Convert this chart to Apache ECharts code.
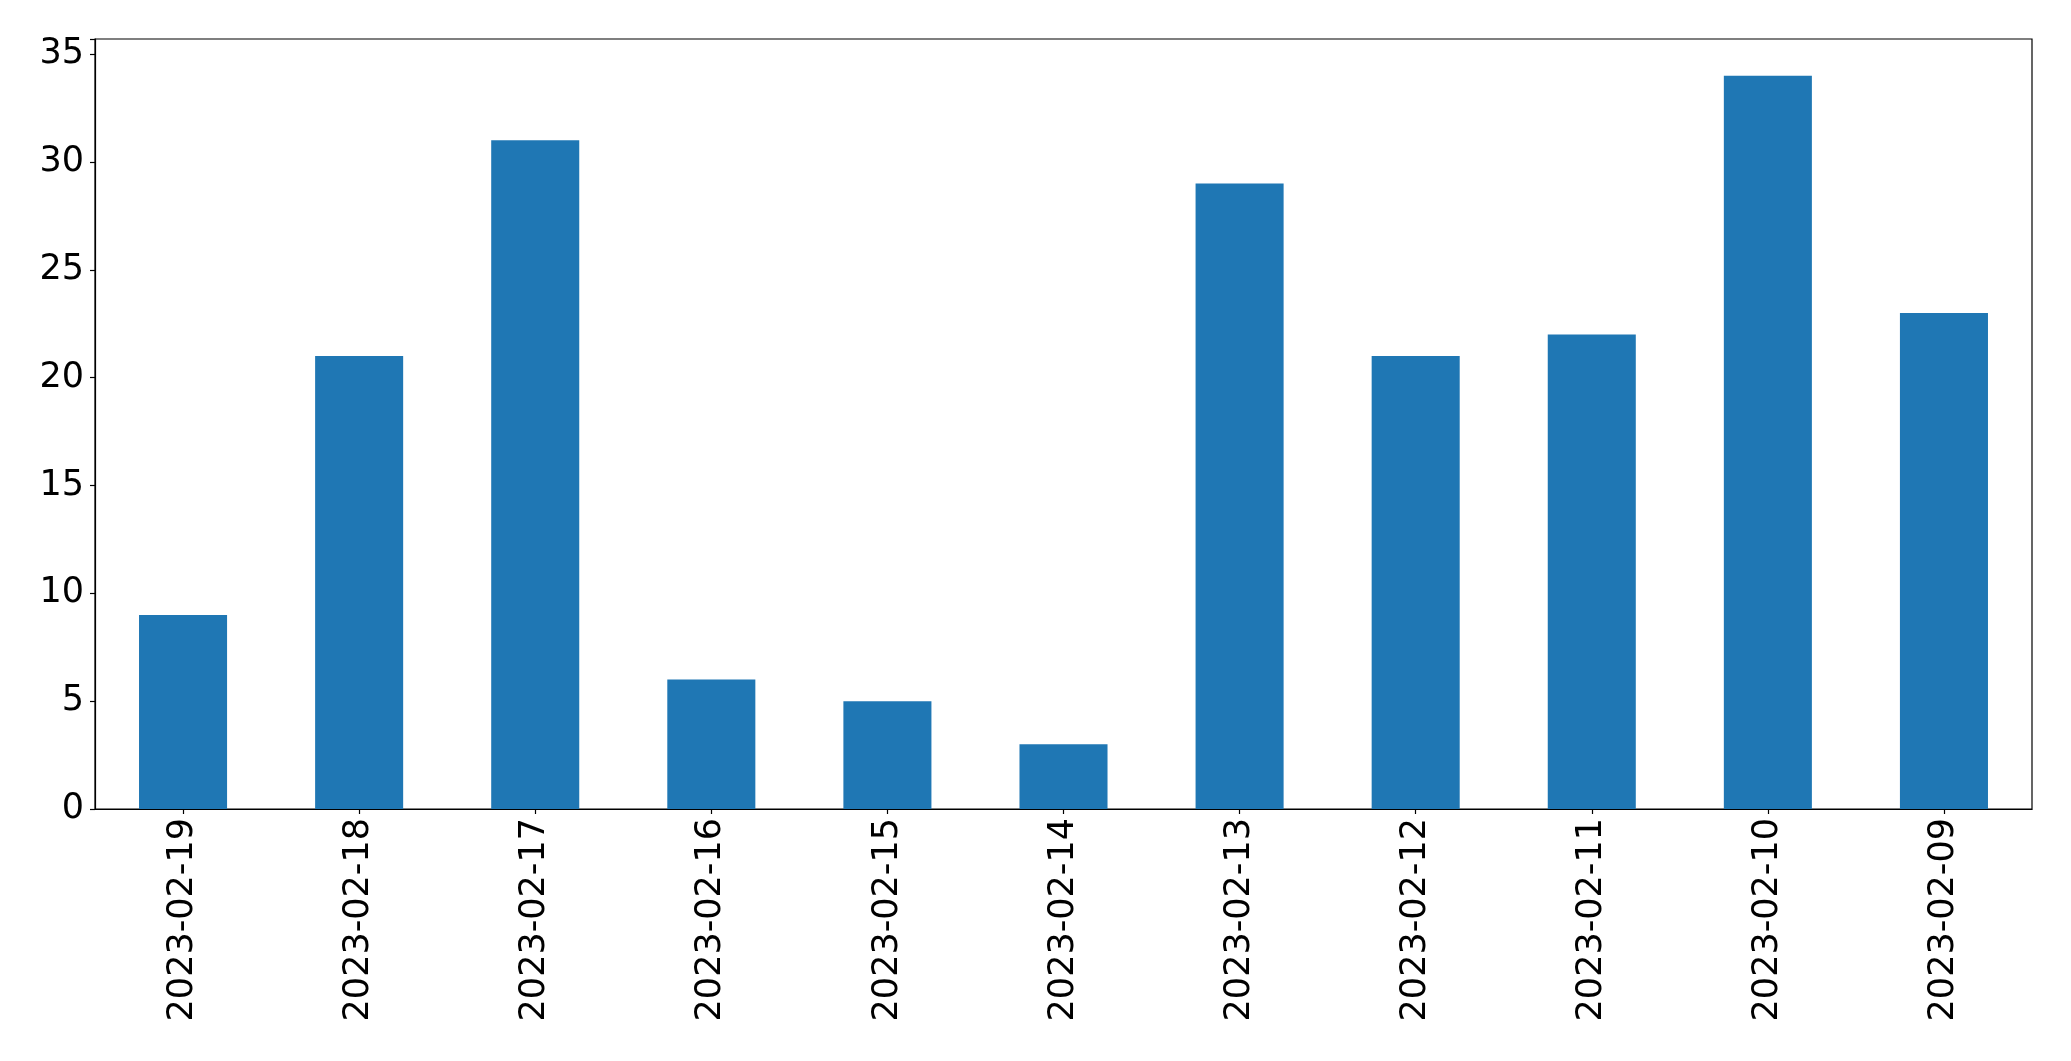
<!DOCTYPE html>
<html>
<head>
<meta charset="utf-8">
<script src="https://cdn.jsdelivr.net/npm/echarts@6/dist/echarts.min.js"></script>
<style>
html,body{margin:0;padding:0;background:#fff;}
#chart{width:2071px;height:1061px;}
</style>
</head>
<body>
<div id="chart"></div>
<script>
const categories = ['2023-02-19','2023-02-18','2023-02-17','2023-02-16','2023-02-15','2023-02-14','2023-02-13','2023-02-12','2023-02-11','2023-02-10','2023-02-09'];
const values = [9, 21, 31, 6, 5, 3, 29, 21, 22, 34, 23];
const yTicks = [0, 5, 10, 15, 20, 25, 30, 35];

const chart = echarts.init(document.getElementById('chart'), null, {renderer: 'canvas'});
const font = 'DejaVu Sans';
chart.setOption({
  animation: false,
  backgroundColor: '#ffffff',
  grid: {
    left: 95, right: 39, top: 39, bottom: 252,
    show: true, borderColor: '#000', borderWidth: 1.2, backgroundColor: 'transparent'
  },
  xAxis: {
    type: 'category',
    data: categories,
    axisLine: {show: true, lineStyle: {color: '#000', width: 1.2}},
    axisTick: {show: true, alignWithLabel: true, length: 5, lineStyle: {color: '#000', width: 1.2}},
    axisLabel: {interval: 0, rotate: 90, fontSize: 35, fontFamily: font, color: '#000', margin: 9},
    splitLine: {show: false}
  },
  yAxis: {
    type: 'value',
    min: 0,
    max: 35.7,
    interval: 5,
    axisLine: {show: true, lineStyle: {color: '#000', width: 1.2}},
    axisTick: {show: true, length: 5, lineStyle: {color: '#000', width: 1.2}},
    axisLabel: {
      fontSize: 35, fontFamily: font, color: '#000', margin: 11,
      formatter: function (v) { return yTicks.indexOf(v) >= 0 ? String(v) : ''; }
    },
    splitLine: {show: false}
  },
  series: [{
    type: 'bar',
    data: values,
    barWidth: '50%',
    itemStyle: {color: '#1f77b4'}
  }]
});
</script>
</body>
</html>
